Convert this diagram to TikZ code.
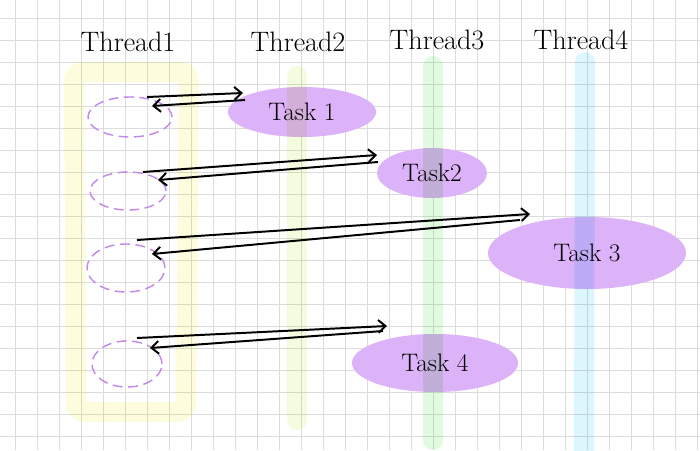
\documentclass[tikz,border=0pt]{standalone}
\usepackage{tikz}
\usetikzlibrary{shapes.geometric,arrows.meta,calc}
\definecolor{gridcolor}{RGB}{220,220,220}
\definecolor{onecolor}{RGB}{253,253,222}
\definecolor{twocolor}{RGB}{243,252,222}
\definecolor{threecolor}{RGB}{225,251,224}
\definecolor{fourcolor}{RGB}{220,246,253}
\definecolor{taskcolor}{RGB}{220,178,248}
\definecolor{slotcolor}{RGB}{192,135,236}

\begin{document}
\begin{tikzpicture}[
    x=0.025cm, y=-0.025cm,
    gridline/.style={gridcolor, line width=0.5pt},
    lane/.style={line width=0.5cm, line cap=round, line join=round},
    title/.style={font=\fontsize{20}{24}\selectfont},
    task/.style={ellipse, fill=taskcolor, inner sep=0pt, font=\fontsize{18}{22}\selectfont},
    slot/.style={ellipse, draw=slotcolor, dash pattern=on 7pt off 4pt, line width=1pt, inner sep=0pt},
    call/.style={-{Straight Barb[length=1.8mm,width=3.2mm]}, line width=1.4pt}
]
\useasboundingbox (0,0) rectangle (700,450);
\fill[white] (0,0) rectangle (700,450);

% Grid paper
\foreach \gx in {15,37,...,700} \draw[gridline] (\gx,0) -- (\gx,450);
\foreach \gy in {18.5,40.5,...,450} \draw[gridline] (0,\gy) -- (700,\gy);

% Thread titles
\node[title] (th1) at (128,42) {Thread1};
\node[title] (th2) at (298,42) {Thread2};
\node[title] (th3) at (437,40) {Thread3};
\node[title] (th4) at (581,40) {Thread4};

% Tasks
\node[task, minimum width=3.7cm, minimum height=1.25cm] (t1) at (302,112) {Task 1};
\node[task, minimum width=2.75cm, minimum height=1.25cm] (t2) at (432,173) {Task2};
\node[task, minimum width=4.95cm, minimum height=1.8cm] (t3) at (587,253) {Task 3};
\node[task, minimum width=4.15cm, minimum height=1.45cm] (t4) at (435,363) {Task 4};

% Thread lanes
\begin{scope}[blend mode=multiply]
\draw[lane, onecolor, rounded corners=6pt] (74,72) -- (189,72) -- (186,412) -- (76,412) -- cycle;
\draw[lane, twocolor] (297,76) -- (297,420);
\draw[lane, threecolor] (433,66) -- (433,440);
\draw[lane, fourcolor] (585,62) -- (584,452);
\end{scope}

% Waiting slots in Thread1
\node[slot, minimum width=2.1cm, minimum height=1cm] (s1) at (130,117) {};
\node[slot, minimum width=1.9cm, minimum height=0.95cm] (s2) at (128,191) {};
\node[slot, minimum width=1.95cm, minimum height=1.2cm] (s3) at (126,268) {};
\node[slot, minimum width=1.75cm, minimum height=1.15cm] (s4) at (127,364) {};

% Calls out and back
\draw[call] ($(s1)+(17,-20)$) -- ($(t1)+(-59,-19)$);
\draw[call] ($(t1)+(-57,-12)$) -- ($(s1)+(22,-11)$);
\draw[call] ($(s2)+(15,-19)$) -- ($(t2)+(-55,-18)$);
\draw[call] ($(t2)+(-54,-11)$) -- ($(s2)+(30,-11)$);
\draw[call] ($(s3)+(11,-28)$) -- ($(t3)+(-57,-39)$);
\draw[call] ($(t3)+(-67,-33)$) -- ($(s3)+(26,-14)$);
\draw[call] ($(s4)+(10,-26)$) -- ($(t4)+(-48,-37)$);
\draw[call] ($(t4)+(-52,-32)$) -- ($(s4)+(23,-16)$);

\end{tikzpicture}
\end{document}
